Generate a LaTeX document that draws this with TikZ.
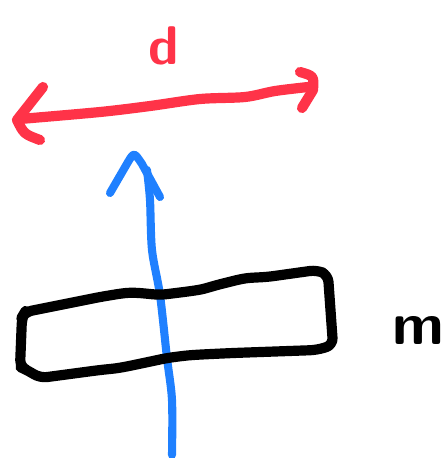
\documentclass[tikz,border=0pt]{standalone}
\definecolor{sketchred}{HTML}{FF3348}
\definecolor{sketchblue}{HTML}{1F80FF}

\begin{document}
\begin{tikzpicture}[x=0.02cm, y=-0.02cm, line cap=round, line join=round,
  pen/.style={line width=5.8pt},
  thinpen/.style={line width=4.6pt}]
  \useasboundingbox (0,0) rectangle (448,458);
  % red span with its two hand drawn heads
  \draw[pen, sketchred] plot[smooth] coordinates
    {(20,119) (100,112) (150,106) (200,99) (245,97) (275,91) (308,87)};
  \draw[pen, sketchred] (43,87) -- (17,120) .. controls (24,134) .. (40,140);
  \draw[pen, sketchred] (300,72) .. controls (314,76) .. (313,90) -- (302,108);
  \node[sketchred, font=\fontsize{31}{33}\selectfont\sffamily\bfseries] (dlabel) at (164,46) {d};
  % blue axis pointing up through the block
  \draw[thinpen, sketchblue] plot[smooth] coordinates
    {(172,455) (172,400) (167,358) (160,295) (152,250) (150,200) (147,170)};
  \draw[thinpen, sketchblue] (110,193) -- (128,162) .. controls (134,152) .. (142,164) -- (160,197);
  % the block, slightly tilted
  \draw[pen, rounded corners=4pt] (22,317) -- (25,312) .. controls (60,305) .. (100,297)
    .. controls (130,292) .. (160,295) .. controls (200,290) .. (217,285)
    .. controls (245,278) .. (267,277) -- (317,270) -- (328,275) -- (333,345)
    -- (317,350) -- (233,353) .. controls (190,355) .. (167,358)
    .. controls (120,368) .. (100,370) -- (40,378) -- (27,370) -- (20,367) -- cycle;
  \node[font=\fontsize{34}{36}\selectfont\sffamily\bfseries] (mlabel) at (418,330) {m};
\end{tikzpicture}
\end{document}
